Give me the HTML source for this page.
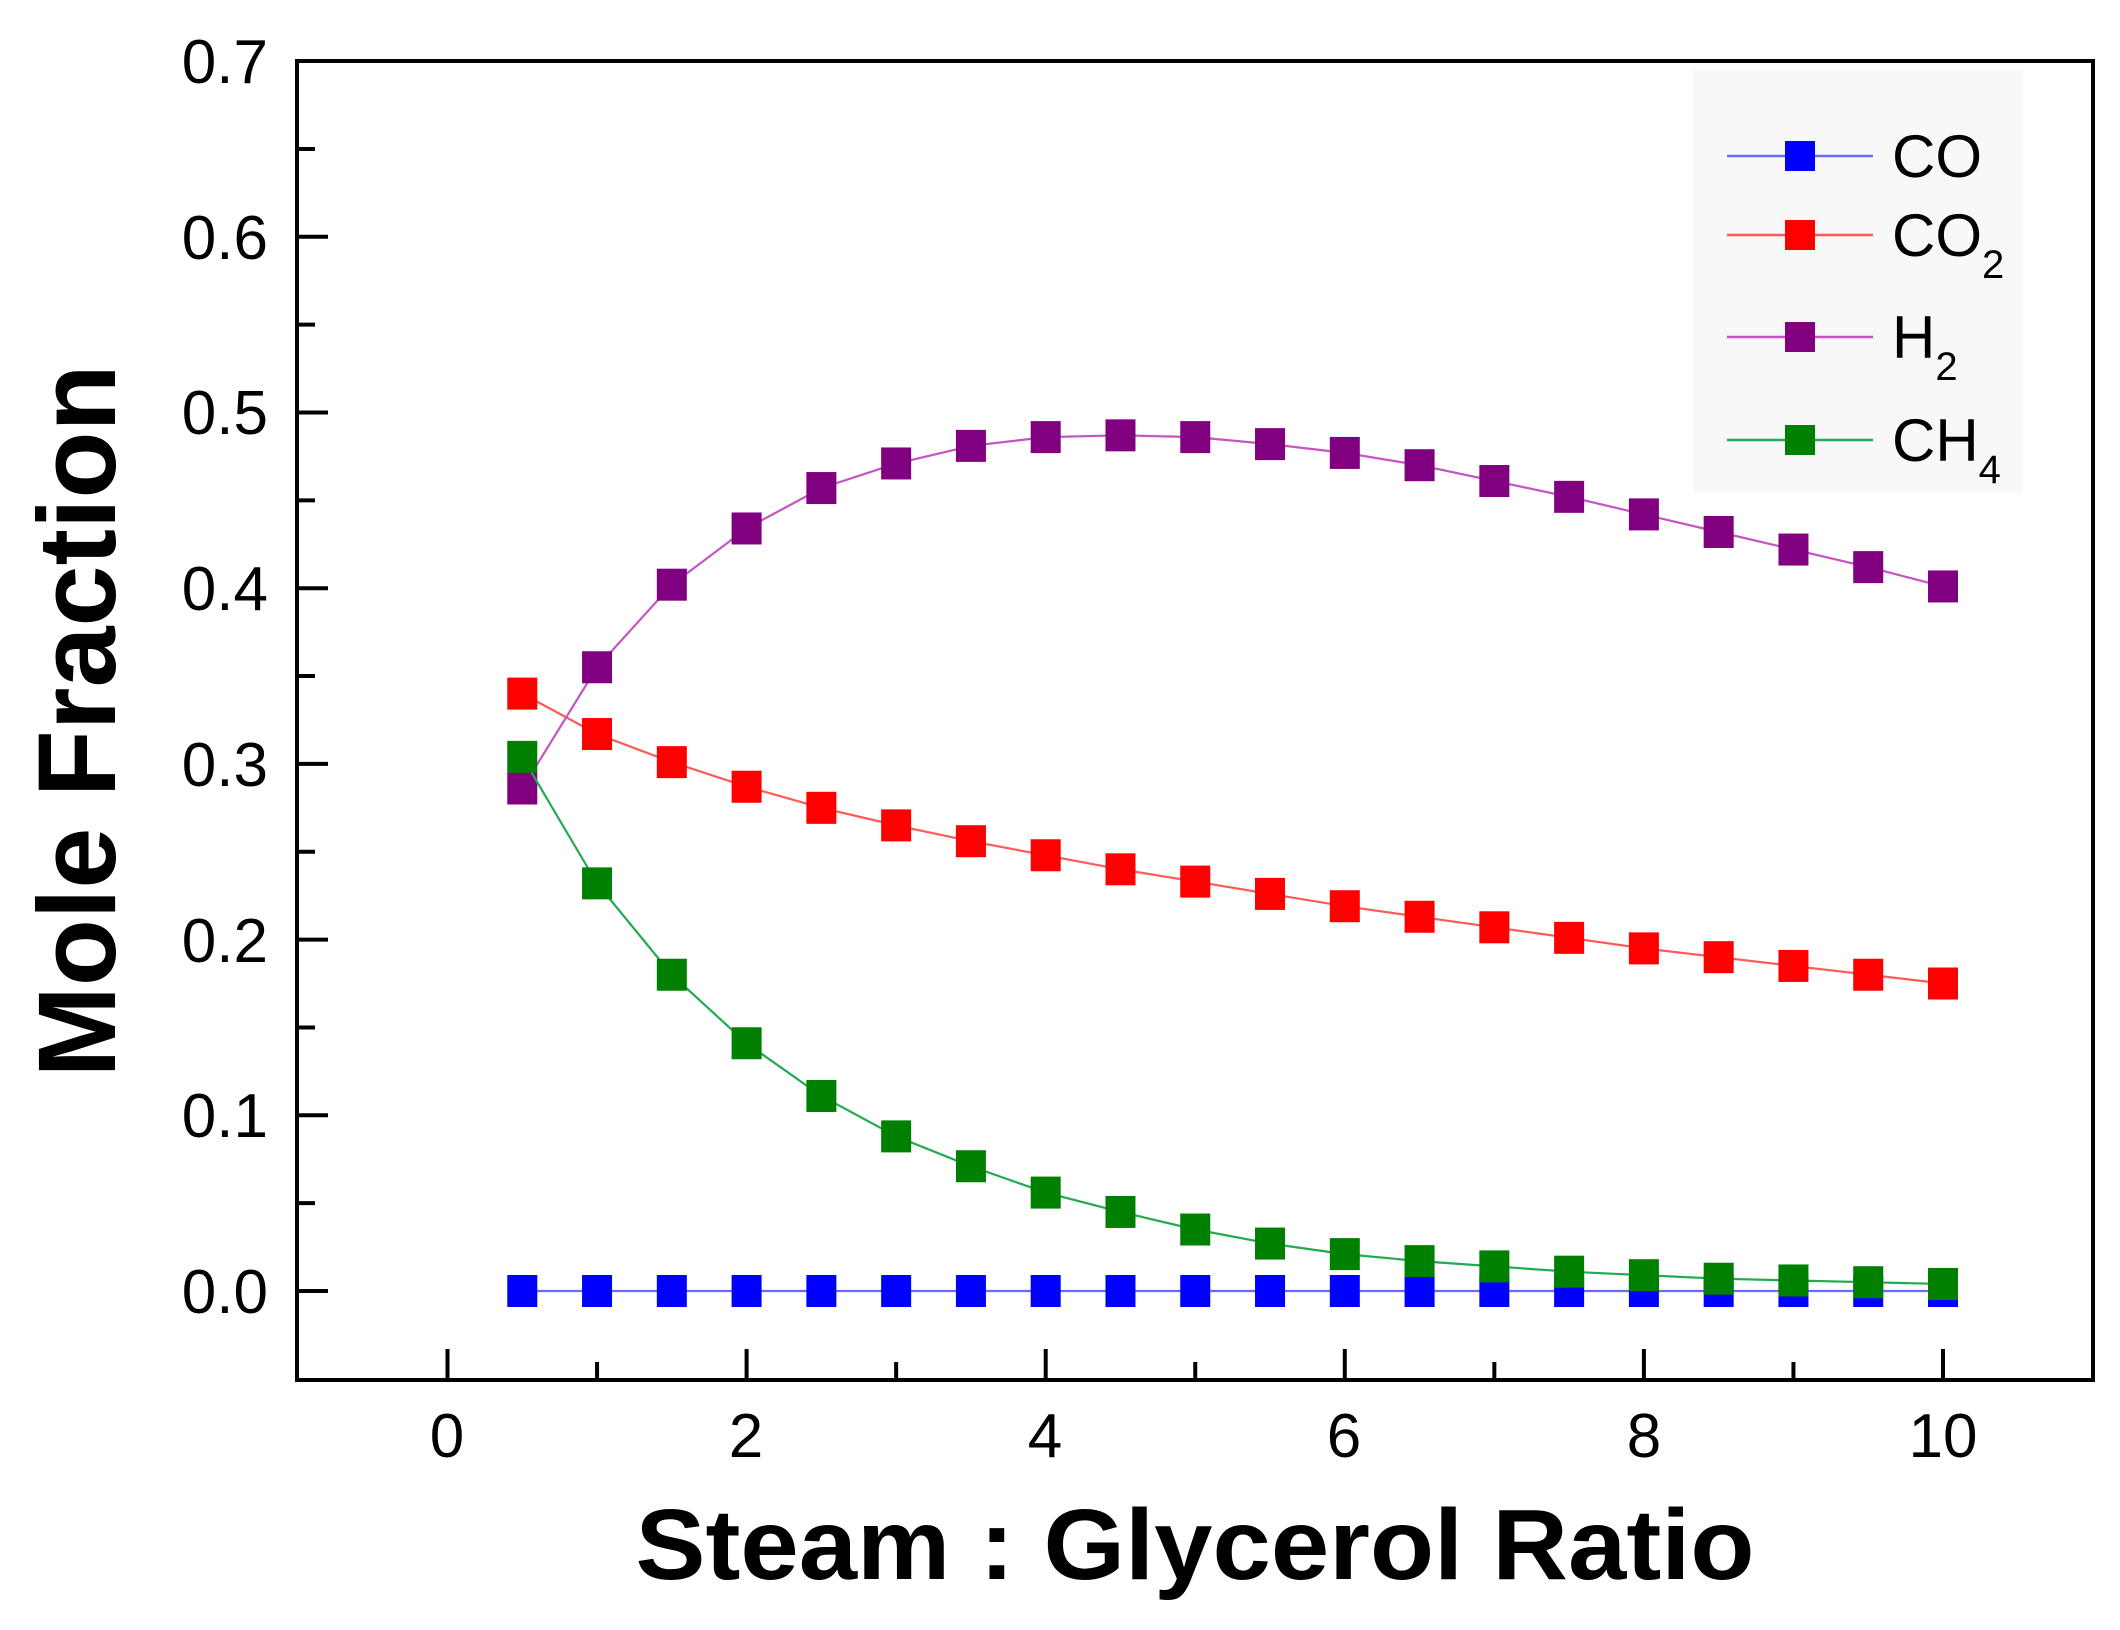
<!DOCTYPE html>
<html><head><meta charset="utf-8"><style>
html,body{margin:0;padding:0;background:#fff;}
svg{display:block;}
</style></head><body>
<svg id="s" width="2120" height="1630" viewBox="0 0 2120 1630" xmlns="http://www.w3.org/2000/svg" font-family="Liberation Sans, Arial, sans-serif">
<rect width="2120" height="1630" fill="#fff"/>
<g id="data"></g>
<rect x="297" y="61" width="1796" height="1319" fill="none" stroke="#000" stroke-width="4"/>
<g id="ticks" stroke="#000" stroke-width="4"></g>
<g font-size="62" fill="#000" text-anchor="end">
<text x="268" y="83">0.7</text>
<text x="268" y="259">0.6</text>
<text x="268" y="434">0.5</text>
<text x="268" y="610">0.4</text>
<text x="268" y="786">0.3</text>
<text x="268" y="962">0.2</text>
<text x="268" y="1137">0.1</text>
<text x="268" y="1313">0.0</text>
</g>
<g font-size="62" fill="#000" text-anchor="middle">
<text x="447" y="1457">0</text>
<text x="746" y="1457">2</text>
<text x="1045" y="1457">4</text>
<text x="1344" y="1457">6</text>
<text x="1644" y="1457">8</text>
<text x="1943" y="1457">10</text>
</g>
<text x="1195" y="1579" font-size="100" font-weight="bold" text-anchor="middle" textLength="1119" lengthAdjust="spacingAndGlyphs">Steam : Glycerol Ratio</text>
<text transform="translate(115,721) rotate(-90)" font-size="110" font-weight="bold" text-anchor="middle" textLength="713" lengthAdjust="spacingAndGlyphs">Mole Fraction</text>
<rect x="1693" y="70" width="330" height="423" fill="#f8f8f8"/>
<g id="leg"></g>
<g font-size="60" fill="#000">
<text x="1892" y="177">CO</text>
<text x="1892" y="256">CO<tspan font-size="40" dy="22">2</tspan></text>
<text x="1892" y="358">H<tspan font-size="40" dy="22">2</tspan></text>
<text x="1892" y="461">CH<tspan font-size="40" dy="22">4</tspan></text>
</g>
</svg>
<script>
var NS="http://www.w3.org/2000/svg";
function X(v){return 447.5+(v)*149.55;}
function Y(v){return 1291-v*1757;}
function el(p,t,a){var e=document.createElementNS(NS,t);for(var k in a)e.setAttribute(k,a[k]);p.appendChild(e);return e;}
var tk=document.getElementById('ticks');
for(var i=0;i<=14;i++){var v=-0.05+i*0.05;var y=Y(v);if(y<65||y>1376)continue;var maj=Math.abs(Math.round(v*10)-v*10)<1e-6;el(tk,'line',{x1:297,x2:297+(maj?31:18),y1:y,y2:y});}
for(var i=-1;i<=11;i++){var x=X(i);if(x<300||x>2090)continue;var maj=(i%2==0);el(tk,'line',{x1:x,x2:x,y1:1380,y2:1380-(maj?31:18)});}
var xs=[];for(var i=1;i<=20;i++)xs.push(i*0.5);
var S=[
{d:[0,0,0,0,0,0,0,0,0,0,0,0,0,0,0,0,0,0,0,0],l:"#6a6aff",m:"#0000ff"},
{d:[0.340,0.317,0.301,0.287,0.275,0.265,0.256,0.248,0.240,0.233,0.226,0.219,0.213,0.207,0.201,0.195,0.190,0.185,0.180,0.175],l:"#ff5a5a",m:"#ff0000"},
{d:[0.286,0.355,0.402,0.434,0.457,0.471,0.481,0.486,0.487,0.486,0.482,0.477,0.470,0.461,0.452,0.442,0.432,0.422,0.412,0.401],l:"#c455c4",m:"#800080"},
{d:[0.304,0.232,0.180,0.141,0.111,0.088,0.071,0.056,0.045,0.035,0.027,0.021,0.017,0.014,0.011,0.009,0.007,0.006,0.005,0.004],l:"#22aa50",m:"#008000"}];
var g=document.getElementById('data');
S.forEach(function(s){var p=s.d.map(function(v,i){return X(xs[i]).toFixed(1)+','+Y(v).toFixed(1);}).join(' ');
el(g,'polyline',{points:p,fill:'none',stroke:s.l,'stroke-width':2.2});
s.d.forEach(function(v,i){el(g,'rect',{x:X(xs[i])-15,y:Y(v)-16,width:30,height:32,fill:s.m});});});
var lg=document.getElementById('leg');var ly=[156,235,337,440];
S.forEach(function(s,i){el(lg,'line',{x1:1727,x2:1873,y1:ly[i],y2:ly[i],stroke:s.l,'stroke-width':2.5});el(lg,'rect',{x:1785,y:ly[i]-15,width:30,height:30,fill:s.m});});
</script>
</body></html>
